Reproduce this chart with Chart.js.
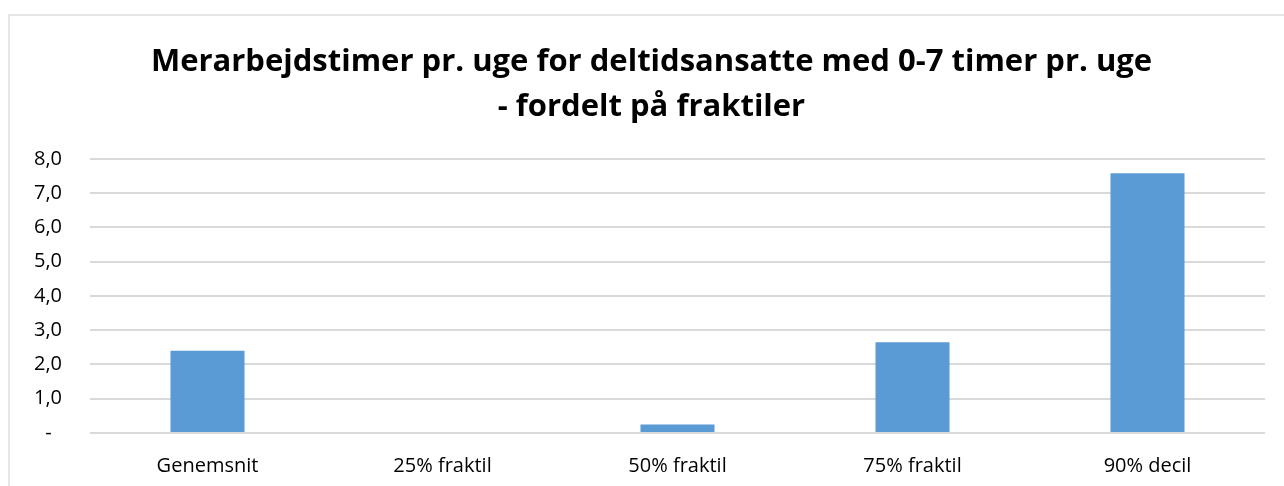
<!DOCTYPE html>
<html>
<head>
<meta charset="utf-8">
<script src="https://cdn.jsdelivr.net/npm/chart.js@4/dist/chart.umd.min.js"></script>
<style>
  body { margin: 0; background: #fff; }
  #frame { position: absolute; left: 8px; top: 14px; width: 1300px; height: 500px; border: 2px solid #e6e6e6; }
  #wrap { position: absolute; left: 0; top: 0; width: 1284px; height: 486px; }
</style>
</head>
<body>
<div id="frame"></div>
<div id="wrap"><canvas id="chart"></canvas></div>
<script>
const categories = ['Genemsnit', '25% fraktil', '50% fraktil', '75% fraktil', '90% decil'];
const hours = [2.4, 0, 0.25, 2.65, 7.58];
const titleLines = ['Merarbejdstimer pr. uge for deltidsansatte med 0-7 timer pr. uge', '- fordelt på fraktiler'];

const ctx = document.getElementById('chart');

// title in the original is centred on the chart frame, not the window
const shiftTitle = {
    id: 'shiftTitle',
    afterLayout: function(chart) {
        if (chart.titleBlock) {
            chart.titleBlock.left += 19;
            chart.titleBlock.right += 19;
        }
    }
};

new Chart(ctx, {
    type: 'bar',
    data: {
        labels: categories,
        datasets: [{
            label: 'Timer',
            data: hours,
            backgroundColor: '#5B9BD5',
            borderWidth: 0,
            categoryPercentage: 1,
            barPercentage: 0.315
        }]
    },
    options: {
        responsive: true,
        maintainAspectRatio: false,
        animation: false,
        layout: { padding: { left: 0, right: 19, top: 0, bottom: 0 } },
        plugins: {
            legend: { display: false },
            tooltip: { enabled: false },
            title: {
                display: true,
                text: titleLines,
                color: '#000',
                font: { family: 'Open Sans', size: 31, weight: 'bold', lineHeight: 1.45 },
                padding: { top: 40, bottom: 29 }
            }
        },
        scales: {
            x: {
                grid: { display: false },
                border: { display: false },
                ticks: { color: '#000', font: { family: 'Open Sans', size: 20 }, padding: 13, maxRotation: 0 },
                afterFit: function(scale) { scale.height = 53; }
            },
            y: {
                min: 0,
                max: 8,
                ticks: {
                    stepSize: 1,
                    color: '#000',
                    font: { family: 'Open Sans', size: 20 },
                    padding: 28,
                    callback: function(v) { return v === 0 ? '-  ' : v.toFixed(1).replace('.', ','); }
                },
                grid: { color: '#d9d9d9', lineWidth: 2, drawTicks: false },
                border: { display: false },
                afterFit: function(scale) { scale.width = 90; }
            }
        }
    },
    plugins: [shiftTitle]
});
</script>
</body>
</html>
